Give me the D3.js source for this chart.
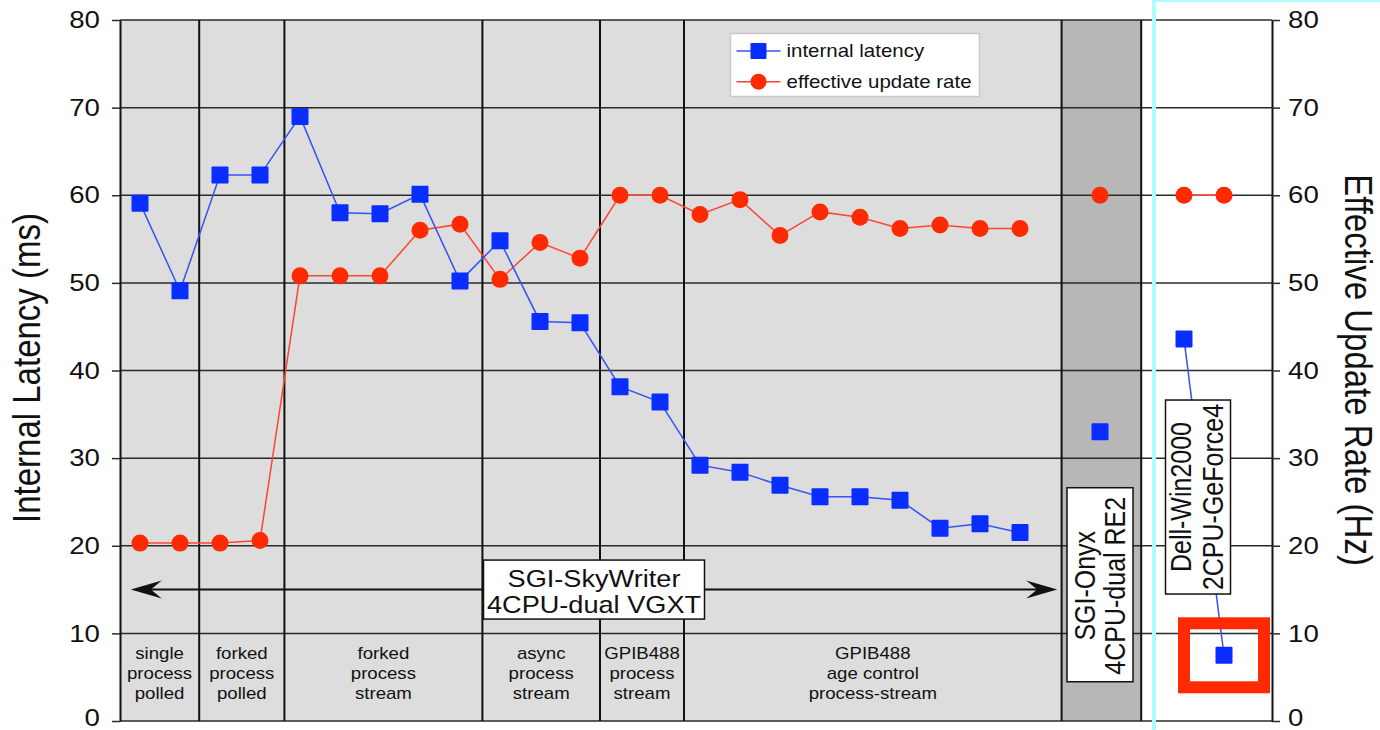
<!DOCTYPE html>
<html>
<head>
<meta charset="utf-8">
<script src="https://cdn.jsdelivr.net/npm/d3@7"></script>
<style>
  html, body { margin: 0; padding: 0; background: #fff; }
  svg { display: block; font-family: "Liberation Sans", Arial, Helvetica, sans-serif; }
</style>
</head>
<body>
<svg id="chart" width="1380" height="730"></svg>
<script>
// ---- data -------------------------------------------------------------
// x slot of every measured configuration
const slots = [0, 1, 2, 3, 4, 5, 6, 7, 8, 9, 10, 11, 12, 13, 14, 15, 16, 17, 18, 19, 20, 21, 22, 24, 26.1, 27.1];
// hardware platform each configuration ran on (index into platformNames)
const platformOf = [0, 0, 0, 0, 0, 0, 0, 0, 0, 0, 0, 0, 0, 0, 0, 0, 0, 0, 0, 0, 0, 0, 0, 1, 2, 2];
// internal latency, ms (left axis)
const latencyMs = [59.1, 49.1, 62.3, 62.3, 69.0, 58.0, 57.9, 60.1, 50.2, 54.8, 45.6, 45.45,
                   38.15, 36.4, 29.2, 28.4, 26.9, 25.6, 25.6, 25.2, 22.0, 22.5, 21.5,
                   33.0, 43.6, 7.5];
// effective update rate, Hz (right axis)
const updateRateHz = [20.3, 20.3, 20.3, 20.6, 50.8, 50.8, 50.8, 56.0, 56.7, 50.4, 54.6, 52.8,
                      60.0, 60.0, 57.8, 59.5, 55.4, 58.1, 57.5, 56.2, 56.6, 56.2, 56.2,
                      60.0, 60.0, 60.0];

const yTicks = [0, 10, 20, 30, 40, 50, 60, 70, 80];
const seriesNames = ["internal latency", "effective update rate"];

// software architecture groups on the SkyWriter (edges in slot units)
const sectionEdges = [-0.5, 1.48, 3.61, 8.56, 11.5, 13.6, 23.04];
const sectionLabels = [
  ["single", "process", "polled"],
  ["forked", "process", "polled"],
  ["forked", "process", "stream"],
  ["async", "process", "stream"],
  ["GPIB488", "process", "stream"],
  ["GPIB488", "age control", "process-stream"]
];

// hardware platforms (edges in slot units)
const platformEdges = [-0.5, 23.04, 25.03, 28.3];
const platformNames = [
  ["SGI-SkyWriter", "4CPU-dual VGXT"],
  ["SGI-Onyx", "4CPU-dual RE2"],
  ["Dell-Win2000", "2CPU-GeForce4"]
];

// ---- styling ----------------------------------------------------------
const platformFill = ["#dddddd", "#b7b7b7", "#ffffff"];
const blue = "#0a2dff", blueLine = "#3553f2";
const red = "#ff2a00", redLine = "#ff4433";
const SX = 1.15;               // horizontal text stretch

const svg = d3.select("#chart");
const plot = { left: 120, right: 1272, top: 20, bottom: 721 };

const x = d3.scaleLinear().domain([platformEdges[0], platformEdges[3]]).range([plot.left, plot.right]);
const yL = d3.scaleLinear().domain([0, 80]).range([plot.bottom, plot.top]);
const yR = d3.scaleLinear().domain([0, 80]).range([plot.bottom, plot.top]);

// text helper: centred multi-line label, optionally rotated
function label(g, cx, cy, lines, size, gap, rot) {
  lines.forEach((t, i) => {
    const off = (i - (lines.length - 1) / 2) * gap;
    const tx = rot ? cx + off * SX * Math.sign(-rot) : cx;
    const ty = rot ? cy : cy + off;
    g.append("text")
      .attr("transform", `translate(${tx},${ty}) scale(${SX},1) rotate(${rot || 0})`)
      .attr("text-anchor", "middle")
      .attr("dy", "0.35em")
      .attr("font-size", size)
      .attr("fill", "#111")
      .text(t);
  });
}

// ---- platform backgrounds ---------------------------------------------
svg.append("g").selectAll("rect")
  .data(platformFill)
  .join("rect")
  .attr("x", (d, i) => x(platformEdges[i]))
  .attr("width", (d, i) => x(platformEdges[i + 1]) - x(platformEdges[i]))
  .attr("y", plot.top)
  .attr("height", plot.bottom - plot.top)
  .attr("fill", d => d);

// ---- horizontal grid -------------------------------------------------
svg.append("g").selectAll("line")
  .data(yTicks)
  .join("line")
  .attr("x1", plot.left).attr("x2", plot.right)
  .attr("y1", d => yL(d)).attr("y2", d => yL(d))
  .attr("stroke", "#2a2a2a").attr("stroke-width", 1.5);

// ---- vertical separators ---------------------------------------------
svg.append("g").selectAll("line")
  .data(sectionEdges.slice(1).concat([platformEdges[2]]))
  .join("line")
  .attr("x1", d => x(d)).attr("x2", d => x(d))
  .attr("y1", plot.top).attr("y2", plot.bottom)
  .attr("stroke", "#111").attr("stroke-width", 2);

// ---- axes ------------------------------------------------------------
const axL = svg.append("g").attr("transform", `translate(${plot.left},0)`)
  .call(d3.axisLeft(yL).tickValues(yTicks).tickSize(8).tickSizeOuter(0).tickPadding(9.5));
const axR = svg.append("g").attr("transform", `translate(${plot.right},0)`)
  .call(d3.axisRight(yR).tickValues(yTicks).tickSize(8).tickSizeOuter(0).tickPadding(6));
[axL, axR].forEach(ax => {
  ax.select(".domain").attr("stroke", "#111").attr("stroke-width", 2);
  ax.selectAll(".tick line").attr("stroke", "#2a2a2a").attr("stroke-width", 1.5);
  ax.selectAll(".tick text")
    .attr("font-size", 24)
    .attr("font-family", "Liberation Sans, Arial, sans-serif")
    .attr("fill", "#111")
    .attr("dy", d => d === 0 ? "0.18em" : "0.32em")   // keep the baseline label inside the canvas
    .attr("transform", `scale(${SX},1)`);
});

// ---- section labels along the bottom ----------------------------------
const secG = svg.append("g");
sectionLabels.forEach((lines, i) => {
  const cx = (x(sectionEdges[i]) + x(sectionEdges[i + 1])) / 2;
  lines.forEach((t, j) => {
    secG.append("text")
      .attr("transform", `translate(${cx},${yL(0) - 62 + j * 20}) scale(${SX},1)`)
      .attr("text-anchor", "middle")
      .attr("font-size", 16.2)
      .attr("fill", "#111")
      .text(t);
  });
});

// ---- SkyWriter span arrow ---------------------------------------------
const arrowSpan = [-0.23, 22.93];
const ya = yL(15);
const ax0 = x(arrowSpan[0]), ax1 = x(arrowSpan[1]);
const arrG = svg.append("g");
arrG.append("line")
  .attr("x1", ax0 + 10).attr("x2", ax1 - 10)
  .attr("y1", ya).attr("y2", ya)
  .attr("stroke", "#111").attr("stroke-width", 2);
arrG.append("path")
  .attr("d", `M${ax0},${ya} L${ax0 + 31},${ya - 9} L${ax0 + 20},${ya} L${ax0 + 31},${ya + 9} Z`)
  .attr("fill", "#111");
arrG.append("path")
  .attr("d", `M${ax1},${ya} L${ax1 - 31},${ya - 9} L${ax1 - 20},${ya} L${ax1 - 31},${ya + 9} Z`)
  .attr("fill", "#111");

// ---- series lines (one polyline per platform) --------------------------
const points = slots.map((s, i) => ({ s, p: platformOf[i], lat: latencyMs[i], rate: updateRateHz[i] }));
const byPlatform = d3.groups(points, d => d.p).filter(([, pts]) => pts.length > 1);

const latLine = d3.line().x(d => x(d.s)).y(d => yL(d.lat));
const rateLine = d3.line().x(d => x(d.s)).y(d => yR(d.rate));

const lineG = svg.append("g").attr("fill", "none").attr("stroke-width", 1.5);
byPlatform.forEach(([, pts]) => {
  lineG.append("path").attr("d", rateLine(pts)).attr("stroke", redLine);
  lineG.append("path").attr("d", latLine(pts)).attr("stroke", blueLine);
});

// ---- platform name boxes ----------------------------------------------
const boxG = svg.append("g");
function box(cx, cy, w, h) {
  boxG.append("rect")
    .attr("x", cx - w / 2).attr("y", cy - h / 2)
    .attr("width", w).attr("height", h)
    .attr("fill", "#fff").attr("stroke", "#111").attr("stroke-width", 1.5);
}
// SkyWriter: horizontal, centred on the arrow
const skyCx = (ax0 + ax1) / 2;
box(skyCx, ya, 221, 59);
label(boxG, skyCx, ya + 2, platformNames[0], 23.6, 26, 0);
// Onyx: vertical, inside the dark band
const onyxCx = x(slots[23]), onyxCy = yL(15.55);
box(onyxCx, onyxCy, 66, 194);
label(boxG, onyxCx, onyxCy + 1, platformNames[1], 25, 26, -90);
// Dell: vertical, between its two measurements
const dellCx = x((slots[24] + slots[25]) / 2) - 6, dellCy = yL(25.56);
box(dellCx, dellCy, 65, 194);
label(boxG, dellCx - 1, dellCy, platformNames[2], 25, 28, -90);

// ---- markers ------------------------------------------------------------
const mkG = svg.append("g");
mkG.selectAll("circle")
  .data(points)
  .join("circle")
  .attr("cx", d => x(d.s)).attr("cy", d => yR(d.rate))
  .attr("r", 8.5).attr("fill", red);
mkG.selectAll("rect")
  .data(points)
  .join("rect")
  .attr("x", d => x(d.s) - 8.5).attr("y", d => yL(d.lat) - 8.5)
  .attr("width", 17).attr("height", 17).attr("rx", 1)
  .attr("fill", blue);

// ---- legend -----------------------------------------------------------
const lg = svg.append("g").attr("transform", "translate(730.5,33.5)");
lg.append("rect").attr("width", 249).attr("height", 63)
  .attr("fill", "#fff").attr("stroke", "#c9c9c9").attr("stroke-width", 1.5);
seriesNames.forEach((name, i) => {
  const yy = 17.5 + i * 30.7;
  const g = lg.append("g").attr("transform", `translate(0,${yy})`);
  g.append("line").attr("x1", 6).attr("x2", 50).attr("y1", 0).attr("y2", 0)
    .attr("stroke", i === 0 ? blueLine : redLine).attr("stroke-width", 1.5);
  if (i === 0) {
    g.append("rect").attr("x", 28 - 8).attr("y", -8).attr("width", 16).attr("height", 16)
      .attr("rx", 1).attr("fill", blue);
  } else {
    g.append("circle").attr("cx", 28).attr("cy", 0).attr("r", 8).attr("fill", red);
  }
  g.append("text")
    .attr("transform", `translate(56,0) scale(${SX},1)`)
    .attr("dy", "0.35em")
    .attr("font-size", 17.8)
    .attr("fill", "#111")
    .text(name);
});

// ---- axis titles ---------------------------------------------------------
label(svg, 27, 368, ["Internal Latency (ms)"], 33, 0, -90);
label(svg, 1358, 370, ["Effective Update Rate (Hz)"], 33, 0, 90);

// ---- highlight frames -------------------------------------------------
svg.append("rect")
  .attr("x", 1154).attr("y", 0).attr("width", 260).attr("height", 760)
  .attr("fill", "none").attr("stroke", "#aefcfc").attr("stroke-width", 4);

const last = points[points.length - 1];
svg.append("rect")
  .attr("x", x(last.s) - 40).attr("y", yL(last.lat) - 32)
  .attr("width", 80).attr("height", 64)
  .attr("fill", "none").attr("stroke", "#ff2a00").attr("stroke-width", 12);
</script>
</body>
</html>
